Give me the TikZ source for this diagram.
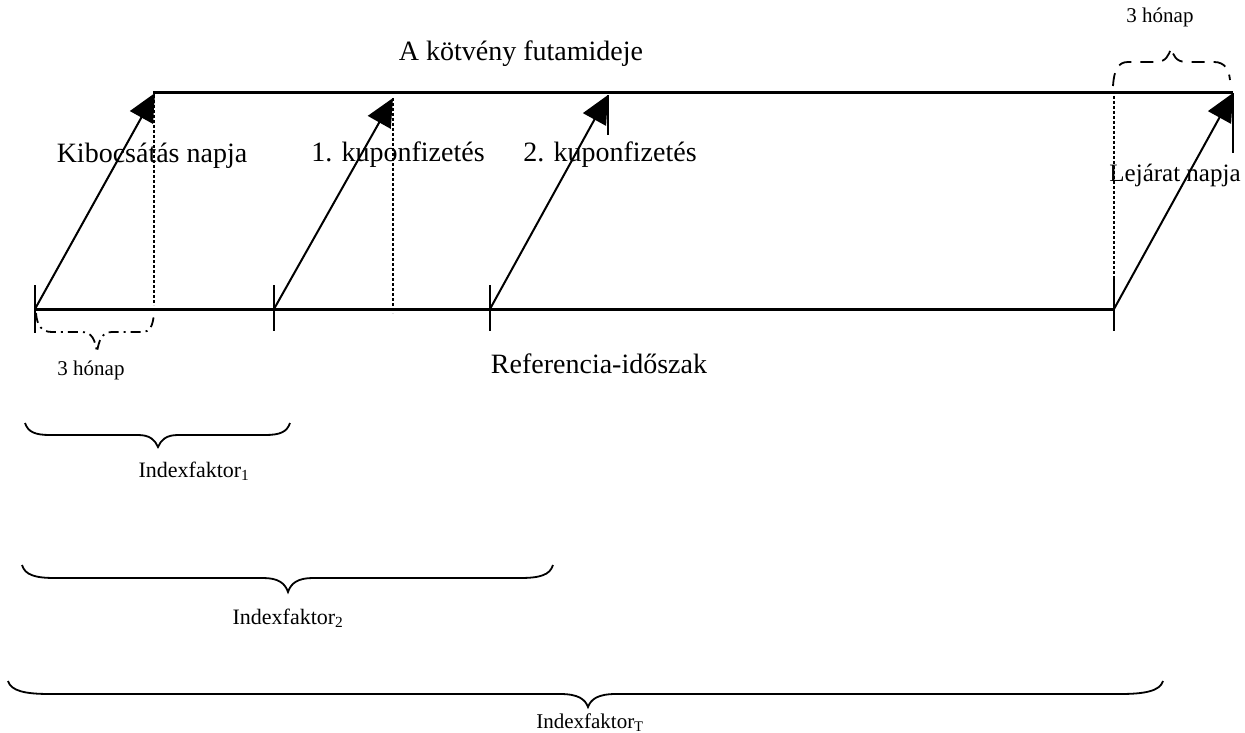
\documentclass[tikz,border=0pt]{standalone}
\usepackage{fontspec}
\setmainfont{Liberation Serif}
\usetikzlibrary{arrows.meta}
\begin{document}
\begin{tikzpicture}[x=1pt,y=-1pt,
  axisline/.style={line width=3pt},
  tickline/.style={line width=2.4pt},
  diag/.style={line width=2pt,-{Triangle[length=28pt,width=26pt]}},
  dotline/.style={line width=2pt,dash pattern=on 3pt off 2pt},
  bracepath/.style={line width=1.8pt},
  dashbrace/.style={line width=1.8pt,dash pattern=on 13pt off 9pt},
  dashdotbrace/.style={line width=1.8pt,dash pattern=on 10pt off 5pt on 2pt off 5pt},
  bigtext/.style={font=\fontsize{28}{32}\selectfont,anchor=base,inner sep=0pt},
  smalltext/.style={font=\fontsize{21}{24}\selectfont,anchor=base,inner sep=0pt},
  idxtext/.style={font=\fontsize{22}{25}\selectfont,anchor=base,inner sep=0pt}]
\useasboundingbox (0,0) rectangle (1245,733);

% base coordinates
\coordinate (b1) at (35,309);
\coordinate (b2) at (274,309);
\coordinate (b3) at (490,309);
\coordinate (b4) at (1114,309);
\coordinate (t1) at (155,93);
\coordinate (t2) at (393,98);
\coordinate (t3) at (608,95);
\coordinate (t4) at (1233,93);
\coordinate (tl) at (153,93);

% main horizontal lines
\draw[axisline] (tl) -- (t4);
\draw[axisline] (b1) -- (b4);

% ticks on the bottom line
\coordinate (k1a) at (35,285); \coordinate (k1b) at (35,333);
\coordinate (k2a) at (274,285); \coordinate (k2b) at (274,331);
\coordinate (k3a) at (490,285); \coordinate (k3b) at (490,331);
\coordinate (k4a) at (1114,278); \coordinate (k4b) at (1114,331);
\draw[tickline] (k1a) -- (k1b);
\draw[tickline] (k2a) -- (k2b);
\draw[tickline] (k3a) -- (k3b);
\draw[tickline] (k4a) -- (k4b);

% dotted verticals
\coordinate (d1a) at (154,95); \coordinate (d1b) at (154,305);
\coordinate (d2a) at (393,98); \coordinate (d2b) at (393,313);
\coordinate (d4a) at (1114,96); \coordinate (d4b) at (1114,278);
\draw[dotline] (d1a) -- (d1b);
\draw[dotline] (d2a) -- (d2b);
\draw[dotline] (d4a) -- (d4b);

% short solid verticals
\coordinate (s3) at (608,135);
\coordinate (s4) at (1233,153);
\draw[tickline] (t3) -- (s3);
\draw[tickline] (t4) -- (s4);

% diagonal arrows
\draw[diag] (b1) -- (t1);
\draw[diag] (b2) -- (t2);
\draw[diag] (b3) -- (t3);
\draw[diag] (b4) -- (t4);

% labels
\node[bigtext] (title) at (521,61) {A kötvény futamideje};
\node[bigtext] (lkib) at (152,162) {Kibocsátás napja};
\node[bigtext] (lk1) at (398,161) {1. kuponfizetés};
\node[bigtext] (lk2) at (610,161) {2. kuponfizetés};
\node[bigtext,font=\fontsize{25}{29}\selectfont] (llej) at (1175,182) {Lejárat napja};
\node[bigtext] (lref) at (599,373) {Referencia-időszak};
\node[smalltext] (h3b) at (91,375) {3 hónap};
\node[smalltext] (h3t) at (1160,23) {3 hónap};

% dashed brackets (3 months)
\draw[dashdotbrace] (36,313) .. controls (37,326) and (42,332) .. (52,332) -- (82,332)
  .. controls (92,332) and (95,340) .. (97,352)
  .. controls (99,340) and (102,332) .. (112,332) -- (142,332)
  .. controls (150,332) and (153,326) .. (154,313);
\draw[dashbrace] (1113,86) .. controls (1114,70) and (1118,62) .. (1128,62) -- (1156,62)
  .. controls (1166,62) and (1169,55) .. (1171,48)
  .. controls (1173,55) and (1176,62) .. (1186,62) -- (1214,62)
  .. controls (1225,62) and (1229,70) .. (1230,80);

% index factor braces
\draw[bracepath] (25,423) .. controls (28,432) and (35,435) .. (50,435) -- (138,435)
  .. controls (150,435) and (155,440) .. (158,447)
  .. controls (161,440) and (166,435) .. (178,435) -- (265,435)
  .. controls (280,435) and (287,432) .. (290,423);
\node[idxtext] (i1) at (194,477) {Indexfaktor\textsubscript{1}};

\draw[bracepath] (22,565) .. controls (25,575) and (35,578) .. (55,578) -- (263,578)
  .. controls (278,578) and (285,583) .. (288,592)
  .. controls (291,583) and (298,578) .. (313,578) -- (520,578)
  .. controls (540,578) and (550,575) .. (553,565);
\node[idxtext] (i2) at (288,624) {Indexfaktor\textsubscript{2}};

\draw[bracepath] (8,681) .. controls (11,691) and (25,694) .. (50,694) -- (560,694)
  .. controls (578,694) and (585,699) .. (588,707)
  .. controls (591,699) and (598,694) .. (616,694) -- (1120,694)
  .. controls (1145,694) and (1160,691) .. (1163,681);
\node[idxtext,font=\fontsize{21}{24}\selectfont] (iT) at (590,728) {Indexfaktor\textsubscript{T}};
\end{tikzpicture}
\end{document}
